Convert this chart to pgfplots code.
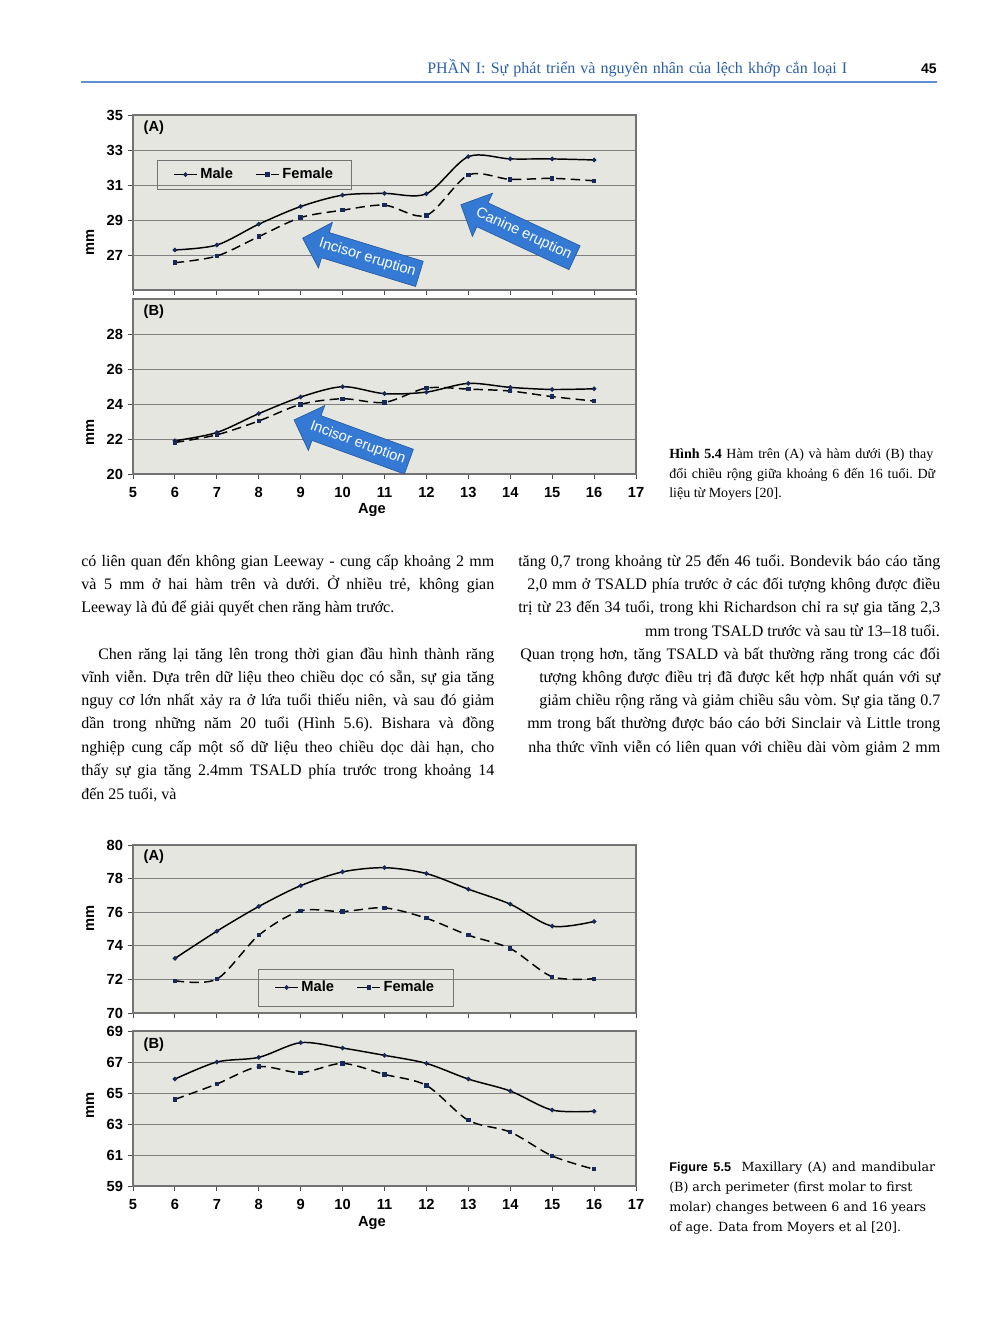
\documentclass[border=0pt]{standalone}
\usepackage{pgfplots}
\pgfplotsset{compat=1.18}
\usepackage{fontspec}
\setmainfont{Liberation Serif}
\newfontfamily\arial{Liberation Sans}
\newfontfamily\capserif{DejaVu Serif}
\usetikzlibrary{shapes.arrows}
\definecolor{bgc}{RGB}{230,230,225}
\definecolor{arrowblue}{RGB}{52,122,212}
\definecolor{markc}{RGB}{25,40,90}
\definecolor{hdrblue}{RGB}{45,95,170}
\definecolor{rulec}{RGB}{95,145,210}
\newcommand{\cf}{\arial\bfseries\fontsize{11}{13}\selectfont}
\newcommand{\jl}[2]{\hbox to #1{\spaceskip=0.25em plus 1fil minus 0.12em\xspaceskip=\spaceskip #2}}
\pgfplotsset{
  chart/.style={
    scale only axis, width=377.25pt,
    xmin=5, xmax=17, xtick={5,...,17},
    axis background/.style={fill=bgc},
    axis line style={black!55, line width=0.8pt},
    ymajorgrids, grid style={black!50, line width=0.6pt},
    tick align=outside, xtick pos=left, ytick pos=left,
    major tick length=4pt,
    tick style={black!70, line width=0.7pt},
    tick label style={font=\cf},
    xticklabel style={yshift=-2.5pt},
    label style={font=\cf},
    /pgf/number format/assume math mode=true,
    legend style={draw=black!55, fill=none, font=\cf, legend columns=2,
      /tikz/every even column/.append style={column sep=15pt}},
    legend cell align=left,
  },
  male/.style={black, line width=1.1pt, smooth, mark=*, mark size=1.1pt,
    mark options={fill=markc, draw=markc, solid}},
  female/.style={black, line width=1.1pt, smooth, dash pattern=on 7pt off 4pt,
    mark=square*, mark size=1.1pt, mark options={fill=markc, draw=markc, solid}},
}
\tikzset{
  blockarrow/.style={single arrow, fill=arrowblue, draw=arrowblue!75!black, line width=0.5pt,
    text=white, font=\arial\fontsize{11}{13}\selectfont, shape border rotate=180,
    single arrow head extend=8pt, single arrow tip angle=90, inner xsep=3pt, inner ysep=4.5pt},
  body/.style={anchor=base west, inner sep=0pt, font=\fontsize{12}{14}\selectfont},
  bodyr/.style={anchor=base east, inner sep=0pt, font=\fontsize{12}{14}\selectfont},
  capa/.style={anchor=base west, inner sep=0pt, font=\fontsize{10.5}{12}\selectfont},
  capb/.style={anchor=base west, inner sep=0pt, font=\capserif\fontsize{9.5}{12}\selectfont},
}
\begin{document}
\begin{tikzpicture}
\useasboundingbox[fill=white] (0,0) rectangle (752.25pt,-992.25pt);
% header
\node[anchor=base west, inner sep=0pt, text=hdrblue, font=\fontsize{12}{14}\selectfont] at (320.25pt,-55pt) {\jl{315pt}{PHẦN I: Sự phát triển và nguyên nhân của lệch khớp cắn loại I}};
\node[anchor=base east, inner sep=0pt, font=\arial\bfseries\fontsize{10.5}{12}\selectfont] at (702.75pt,-55pt) {45};
\draw[rulec, line width=1.2pt] (60.75pt,-61.5pt) -- (702.75pt,-61.5pt);

% ---------- Figure 5.4 (A)
\begin{axis}[chart, at={(99.75pt,-217.5pt)}, anchor=south west, height=131.25pt,
  ymin=25, ymax=35, ytick={27,29,31,33,35}, xticklabels={,,,,,,,,,,,,,},
  ylabel={mm}, ylabel style={at={(axis description cs:-0.085,0.27)}, anchor=center},
  legend style={at={(0.048,0.743)}, anchor=north west, inner xsep=12pt, inner ysep=4pt}]
\addplot[male] coordinates {(6,27.29)(7,27.57)(8,28.76)(9,29.77)(10,30.42)(11,30.52)(12,30.5)(13,32.62)(14,32.49)(15,32.49)(16,32.43)};
\addlegendentry{Male}
\addplot[female] coordinates {(6,26.56)(7,26.94)(8,28.05)(9,29.14)(10,29.56)(11,29.85)(12,29.26)(13,31.57)(14,31.32)(15,31.38)(16,31.24)};
\addlegendentry{Female}
\node[anchor=west, font=\cf] at (rel axis cs:0.012,0.926) {(A)};
\node[blockarrow, rotate=-17] at (axis cs:10.59,26.83) {Incisor eruption};
\node[blockarrow, rotate=-25] at (axis cs:14.32,28.2) {Canine eruption};
\end{axis}

% ---------- Figure 5.4 (B)
\begin{axis}[chart, at={(99.75pt,-355.5pt)}, anchor=south west, height=131.25pt,
  ymin=20, ymax=30, ytick={20,22,24,26,28},
  ylabel={mm}, ylabel style={at={(axis description cs:-0.085,0.24)}, anchor=center},
  xlabel={Age}, xlabel style={at={(axis description cs:0.475,-0.206)}, anchor=center}]
\addplot[male] coordinates {(6,21.9)(7,22.37)(8,23.45)(9,24.4)(10,24.99)(11,24.59)(12,24.68)(13,25.18)(14,24.95)(15,24.83)(16,24.87)};
\addplot[female] coordinates {(6,21.8)(7,22.24)(8,23.03)(9,23.98)(10,24.3)(11,24.09)(12,24.91)(13,24.85)(14,24.74)(15,24.42)(16,24.17)};
\node[anchor=west, font=\cf] at (rel axis cs:0.012,0.926) {(B)};
\node[blockarrow, rotate=-20] at (axis cs:10.36,21.77) {Incisor eruption};
\end{axis}

% caption 5.4
\node[capa] at (501.75pt,-343.5pt) {\jl{198pt}{\textbf{Hình 5.4} Hàm trên (A) và hàm dưới (B) thay}};
\node[capa] at (501.75pt,-358.5pt) {\jl{199.5pt}{đổi chiều rộng giữa khoảng 6 đến 16 tuổi. Dữ}};
\node[capa] at (501.75pt,-372.75pt) {liệu từ Moyers [20].};

% left column
\node[body] at (60.75pt,-424.5pt) {\jl{309.75pt}{có liên quan đến không gian Leeway - cung cấp khoảng 2 mm}};
\node[body] at (60.75pt,-441.75pt) {\jl{309.75pt}{và 5 mm ở hai hàm trên và dưới. Ở nhiều trẻ, không gian}};
\node[body] at (60.75pt,-459pt) {Leeway là đủ để giải quyết chen răng hàm trước.};
\node[body] at (73.5pt,-494.25pt) {\jl{297pt}{Chen răng lại tăng lên trong thời gian đầu hình thành răng}};
\node[body] at (60.75pt,-511.5pt) {\jl{309.75pt}{vĩnh viễn. Dựa trên dữ liệu theo chiều dọc có sẵn, sự gia tăng}};
\node[body] at (60.75pt,-528.75pt) {\jl{309.75pt}{nguy cơ lớn nhất xảy ra ở lứa tuổi thiếu niên, và sau đó giảm}};
\node[body] at (60.75pt,-546pt) {\jl{309.75pt}{dần trong những năm 20 tuổi (Hình 5.6). Bishara và đồng}};
\node[body] at (60.75pt,-564pt) {\jl{309.75pt}{nghiệp cung cấp một số dữ liệu theo chiều dọc dài hạn, cho}};
\node[body] at (60.75pt,-581.25pt) {\jl{309.75pt}{thấy sự gia tăng 2.4mm TSALD phía trước trong khoảng 14}};
\node[body] at (60.75pt,-599.25pt) {đến 25 tuổi, và};

% right column
\node[body] at (388.5pt,-424.5pt) {\jl{316.5pt}{tăng 0,7 trong khoảng từ 25 đến 46 tuổi. Bondevik báo cáo tăng}};
\node[body] at (395.25pt,-441.75pt) {\jl{309.75pt}{2,0 mm ở TSALD phía trước ở các đối tượng không được điều}};
\node[body] at (388.5pt,-459pt) {\jl{316.5pt}{trị từ 23 đến 34 tuổi, trong khi Richardson chỉ ra sự gia tăng 2,3}};
\node[bodyr] at (705pt,-477pt) {mm trong TSALD trước và sau từ 13–18 tuổi.};
\node[body] at (390pt,-494.25pt) {\jl{315pt}{Quan trọng hơn, tăng TSALD và bất thường răng trong các đối}};
\node[body] at (404.25pt,-511.5pt) {\jl{300.75pt}{tượng không được điều trị đã được kết hợp nhất quán với sự}};
\node[body] at (404.25pt,-528.75pt) {\jl{300.75pt}{giảm chiều rộng răng và giảm chiều sâu vòm. Sự gia tăng 0.7}};
\node[body] at (395.25pt,-546pt) {\jl{309.75pt}{mm trong bất thường được báo cáo bởi Sinclair và Little trong}};
\node[body] at (396pt,-564pt) {\jl{309pt}{nha thức vĩnh viễn có liên quan với chiều dài vòm giảm 2 mm}};

% ---------- Figure 5.5 (A)
\begin{axis}[chart, at={(99.75pt,-759.75pt)}, anchor=south west, height=126pt,
  ymin=70, ymax=80, ytick={70,72,...,80}, xticklabels={,,,,,,,,,,,,,},
  ylabel={mm}, ylabel style={at={(axis description cs:-0.085,0.565)}, anchor=center},
  legend style={at={(0.249,0.262)}, anchor=north west, inner xsep=12pt, inner ysep=7pt}]
\addplot[male] coordinates {(6,73.25)(7,74.87)(8,76.34)(9,77.58)(10,78.4)(11,78.65)(12,78.3)(13,77.37)(14,76.48)(15,75.17)(16,75.45)};
\addlegendentry{Male}
\addplot[female] coordinates {(6,71.92)(7,72.02)(8,74.63)(9,76.08)(10,76.04)(11,76.26)(12,75.64)(13,74.63)(14,73.84)(15,72.16)(16,72.04)};
\addlegendentry{Female}
\node[anchor=west, font=\cf] at (rel axis cs:0.012,0.929) {(A)};
\end{axis}

% ---------- Figure 5.5 (B)
\begin{axis}[chart, at={(99.75pt,-889.5pt)}, anchor=south west, height=116.25pt,
  ymin=59, ymax=69, ytick={59,61,...,69},
  ylabel={mm}, ylabel style={at={(axis description cs:-0.085,0.52)}, anchor=center},
  xlabel={Age}, xlabel style={at={(axis description cs:0.475,-0.239)}, anchor=center}]
\addplot[male] coordinates {(6,65.9)(7,67.0)(8,67.3)(9,68.25)(10,67.9)(11,67.43)(12,66.91)(13,65.9)(14,65.13)(15,63.9)(16,63.82)};
\addplot[female] coordinates {(6,64.59)(7,65.58)(8,66.7)(9,66.31)(10,66.91)(11,66.2)(12,65.49)(13,63.24)(14,62.48)(15,60.94)(16,60.08)};
\node[anchor=west, font=\cf] at (rel axis cs:0.012,0.91) {(B)};
\end{axis}

% caption 5.5
\node[capb] at (501.75pt,-878.25pt) {\jl{199.5pt}{{\arial\bfseries Figure 5.5}\hspace{0.4em} Maxillary (A) and mandibular}};
\node[capb] at (501.75pt,-893.25pt) {(B) arch perimeter (first molar to first};
\node[capb] at (501.75pt,-908.25pt) {molar) changes between 6 and 16 years};
\node[capb] at (501.75pt,-923.25pt) {of age. Data from Moyers et al [20].};
\end{tikzpicture}
\end{document}
